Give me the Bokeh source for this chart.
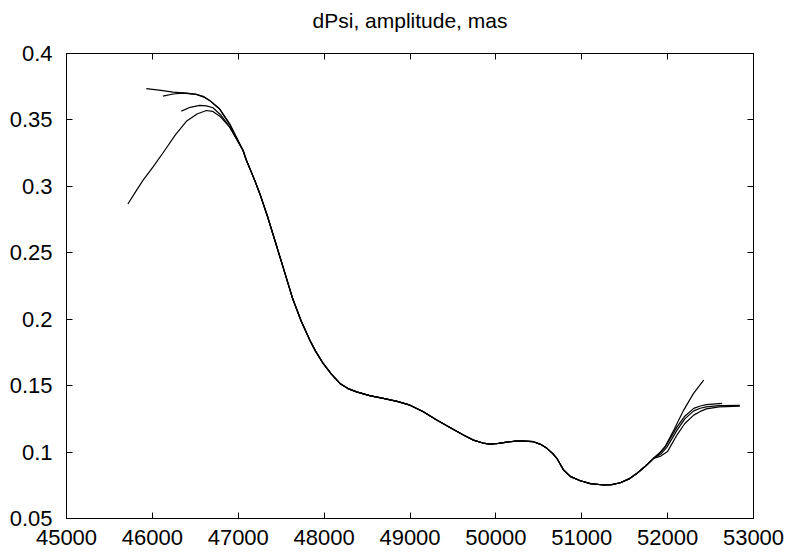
from bokeh.plotting import figure
from bokeh.models import FixedTicker, LinearAxis, Range1d
from bokeh.embed import file_html
from bokeh.resources import INLINE

# Shared middle part of all curves (MJD, mas)
common_x = [47056, 47096, 47192, 47251, 47340, 47426, 47530, 47630, 47730, 47834,
            47900, 47989, 48080, 48184, 48278, 48378, 48530, 48689, 48850, 49000,
            49150, 49311, 49470, 49622, 49738, 49850, 49933, 50030, 50128, 50230,
            50321, 50438, 50520, 50594, 50660, 50710, 50788, 50870, 50983, 51100,
            51255, 51350, 51449, 51550, 51644, 51740, 51837]
common_y = [0.3270, 0.3195, 0.3045, 0.2945, 0.2775, 0.2594, 0.2375, 0.2162, 0.1990, 0.1842,
            0.1760, 0.1667, 0.1590, 0.1517, 0.1478, 0.1453, 0.1425, 0.1404, 0.1382, 0.1353,
            0.1305, 0.1241, 0.1183, 0.1128, 0.1090, 0.1068, 0.1060, 0.1065, 0.1075, 0.1082,
            0.1083, 0.1078, 0.1058, 0.1028, 0.0990, 0.0953, 0.0865, 0.0815, 0.0784, 0.0762,
            0.0752, 0.0755, 0.0769, 0.0798, 0.0840, 0.0893, 0.0953]

# Curve-specific starts
a_left_x = [45715, 45800, 45890, 46006, 46143, 46270, 46396, 46520, 46629, 46700, 46790, 46901]
a_left_y = [0.2867, 0.2955, 0.3045, 0.3145, 0.3270, 0.3390, 0.3490, 0.3545, 0.3571, 0.3565, 0.3525, 0.3446]
b_left_x = [46337, 46440, 46551, 46630, 46706, 46800, 46901]
b_left_y = [0.3566, 0.3595, 0.3609, 0.3606, 0.3592, 0.3535, 0.3446]
c_left_x = [46123, 46240, 46356, 46512, 46600, 46668, 46784, 46901]
c_left_y = [0.3679, 0.3695, 0.3702, 0.3692, 0.3672, 0.3645, 0.3580, 0.3465]
d_left_x = [45929, 46100, 46240, 46400, 46512, 46600, 46668, 46784, 46901]
d_left_y = [0.3735, 0.3722, 0.3709, 0.3702, 0.3692, 0.3675, 0.3647, 0.3584, 0.3471]

# Curve-specific ends
a_right_x = [51920, 52000, 52110, 52200, 52304, 52380, 52450, 52600, 52841]
a_right_y = [0.0970, 0.1005, 0.1130, 0.1215, 0.1278, 0.1306, 0.1325, 0.1340, 0.1346]
b_right_x = [51920, 51990, 52110, 52200, 52304, 52380, 52450, 52600, 52840]
b_right_y = [0.0985, 0.1035, 0.1165, 0.1250, 0.1310, 0.1330, 0.1340, 0.1350, 0.1352]
c_right_x = [51910, 51974, 52110, 52200, 52304, 52380, 52450, 52635]
c_right_y = [0.0995, 0.1040, 0.1190, 0.1270, 0.1329, 0.1347, 0.1357, 0.1366]
d_right_x = [51910, 51974, 52080, 52187, 52300, 52420]
d_right_y = [0.0995, 0.1045, 0.1175, 0.1316, 0.1440, 0.1541]

x_ticks = [45000, 46000, 47000, 48000, 49000, 50000, 51000, 52000, 53000]
y_ticks = [0.05, 0.1, 0.15, 0.2, 0.25, 0.3, 0.35, 0.4]
y_tick_labels = ["0.05", "0.1", "0.15", "0.2", "0.25", "0.3", "0.35", "0.4"]
title_text = "dPsi, amplitude, mas"

FONT = "Liberation Sans"

p = figure(width=797, height=556, output_backend="svg", toolbar_location=None,
           x_range=Range1d(x_ticks[0], x_ticks[-1]), y_range=Range1d(y_ticks[0], y_ticks[-1]),
           min_border_left=66, min_border_right=44, min_border_top=53, min_border_bottom=38)
p.grid.visible = False
p.outline_line_color = "black"
p.outline_line_width = 1
p.background_fill_color = "white"
p.border_fill_color = "white"

for ax in (p.xaxis[0], p.yaxis[0]):
    ax.major_tick_in = 6
    ax.major_tick_out = 0
    ax.minor_tick_line_color = None
    ax.axis_line_color = "black"
    ax.major_tick_line_color = "black"
    ax.major_label_text_font = FONT
    ax.major_label_text_font_size = "22px"
    ax.major_label_text_color = "black"

p.xaxis[0].ticker = FixedTicker(ticks=x_ticks)
p.xaxis[0].major_label_overrides = {t: str(t) for t in x_ticks}
p.xaxis[0].major_label_standoff = 11
p.yaxis[0].ticker = FixedTicker(ticks=y_ticks)
p.yaxis[0].major_label_overrides = {t: l for t, l in zip(y_ticks, y_tick_labels)}
p.yaxis[0].major_label_standoff = 14

# Top axis carries the mirrored ticks and the chart title as its label
top = LinearAxis(ticker=FixedTicker(ticks=x_ticks), major_tick_in=6, major_tick_out=0,
                 minor_tick_line_color=None, major_label_text_font_size="0px",
                 major_label_standoff=0, axis_line_color="black",
                 axis_label=title_text, axis_label_standoff=22,
                 axis_label_text_font=FONT, axis_label_text_font_size="21px",
                 axis_label_text_font_style="normal", axis_label_text_color="black")
right = LinearAxis(ticker=FixedTicker(ticks=y_ticks), major_tick_in=6, major_tick_out=0,
                   minor_tick_line_color=None, major_label_text_font_size="0px",
                   major_label_standoff=0, axis_line_color="black")
p.add_layout(top, "above")
p.add_layout(right, "right")

curves = [
    (a_left_x, a_left_y, a_right_x, a_right_y),
    (b_left_x, b_left_y, b_right_x, b_right_y),
    (c_left_x, c_left_y, c_right_x, c_right_y),
    (d_left_x, d_left_y, d_right_x, d_right_y),
]
for lx, ly, rx, ry in curves:
    xs = lx + common_x + rx
    ys = ly + common_y + ry
    p.line(xs, ys, line_color="black", line_width=1.2, line_join="round")

open("out.html", "w").write(file_html(p, INLINE))
